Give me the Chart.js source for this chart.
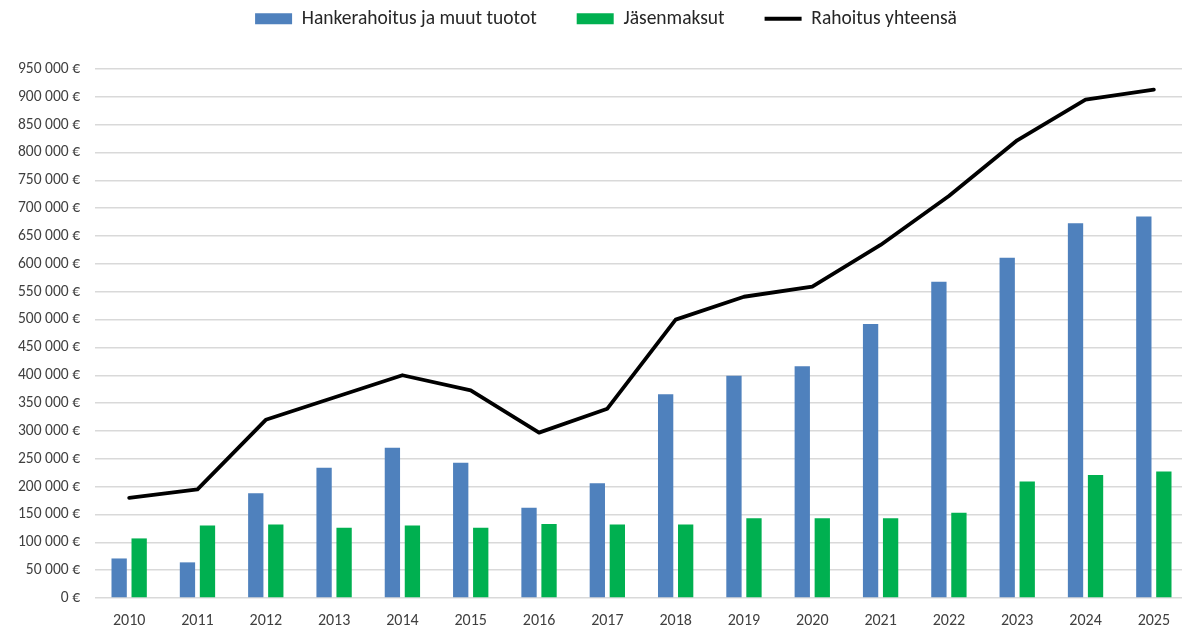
<!DOCTYPE html>
<html>
<head>
<meta charset="utf-8">
<script src="https://cdn.jsdelivr.net/npm/chart.js@4"></script>
<style>
  html, body { margin: 0; padding: 0; background: #fff; overflow: hidden; }
  #wrap { width: 1212px; height: 630px; position: relative; }
</style>
</head>
<body>
<div id="wrap"><canvas id="chart"></canvas></div>
<script>
/* Rahoitus 2010-2025 */

var years = ['2010', '2011', '2012', '2013', '2014', '2015', '2016', '2017',
             '2018', '2019', '2020', '2021', '2022', '2023', '2024', '2025'];

var hankerahoitus = [71000, 64000, 188000, 234000, 270000, 243000, 162000, 206000,
                     366000, 399000, 416000, 492000, 568000, 611000, 673000, 685000];

var jasenmaksut = [107000, 130000, 132000, 126000, 130000, 126000, 133000, 132000,
                   132000, 143000, 143000, 143000, 153000, 209000, 221000, 227000];

var rahoitusYhteensa = [180000, 195000, 320000, 360000, 400000, 373000, 297000, 340000,
                        500000, 541000, 559000, 634000, 722000, 822000, 895000, 913000];

var yMin = 0;
var yMax = 950000;
var yStep = 50000;

var FONT = "Carlito, Lato, 'Liberation Sans', sans-serif";

function euro(v) {
  return String(v).replace(/\B(?=(\d{3})+(?!\d))/g, ' ') + ' €';
}

var ctx = document.getElementById('chart');

new Chart(ctx, {
  data: {
    labels: years,
    datasets: [
      {
        type: 'bar',
        label: 'Hankerahoitus ja muut tuotot',
        data: hankerahoitus,
        backgroundColor: '#4F81BD',
        borderWidth: 0,
        categoryPercentage: 0.586,
        barPercentage: 0.765
      },
      {
        type: 'bar',
        label: 'Jäsenmaksut',
        data: jasenmaksut,
        backgroundColor: '#00B050',
        borderWidth: 0,
        categoryPercentage: 0.586,
        barPercentage: 0.765
      },
      {
        type: 'line',
        label: 'Rahoitus yhteensä',
        data: rahoitusYhteensa,
        borderColor: '#000000',
        backgroundColor: '#000000',
        borderWidth: 3.8,
        borderCapStyle: 'round',
        borderJoinStyle: 'round',
        pointRadius: 0,
        tension: 0,
        fill: false
      }
    ]
  },
  options: {
    responsive: true,
    maintainAspectRatio: false,
    animation: false,
    layout: { padding: { top: -31, right: 24, bottom: 0, left: 24 } },
    plugins: {
      tooltip: { enabled: false },
      legend: {
        position: 'top',
        labels: {
          usePointStyle: true,
          pointStyleWidth: 37,
          boxHeight: 11,
          padding: 40,
          color: '#262626',
          font: { family: FONT, size: 19.5 },
          generateLabels: function(chart) {
            var items = Chart.defaults.plugins.legend.labels.generateLabels(chart);
            items.forEach(function(it) {
              var ds = chart.data.datasets[it.datasetIndex];
              if (ds.type === 'line') {
                it.pointStyle = 'line';
                it.lineWidth = 3.8;
                it.strokeStyle = '#000000';
              } else {
                it.pointStyle = 'rect';
                it.lineWidth = 0;
              }
            });
            return items;
          }
        }
      },
      /* empty spacer between legend and plot */
      subtitle: {
        display: true,
        text: '',
        position: 'top',
        weight: 500,
        font: { size: 10, lineHeight: 1 },
        padding: { top: 20.5, bottom: 0 }
      }
    },
    scales: {
      x: {
        afterFit: function(scale) { scale.height = 32; },
        grid: { display: false, drawTicks: false },
        border: { display: false },
        ticks: {
          color: '#404040',
          padding: 13,
          maxRotation: 0,
          font: { family: FONT, size: 16 }
        }
      },
      y: {
        min: yMin,
        max: yMax,
        afterFit: function(scale) {
          scale.width = 71;
          /* labels reach into the left padding; don't clip them */
          scale._computeLabelArea = function() { return undefined; };
        },
        grid: { color: '#D9D9D9', lineWidth: 1.5, drawTicks: false },
        border: { display: false },
        ticks: {
          stepSize: yStep,
          padding: 15,
          color: '#404040',
          font: { family: FONT, size: 15.5 },
          callback: function(v) { return euro(v); }
        }
      }
    }
  }
});
</script>
</body>
</html>
